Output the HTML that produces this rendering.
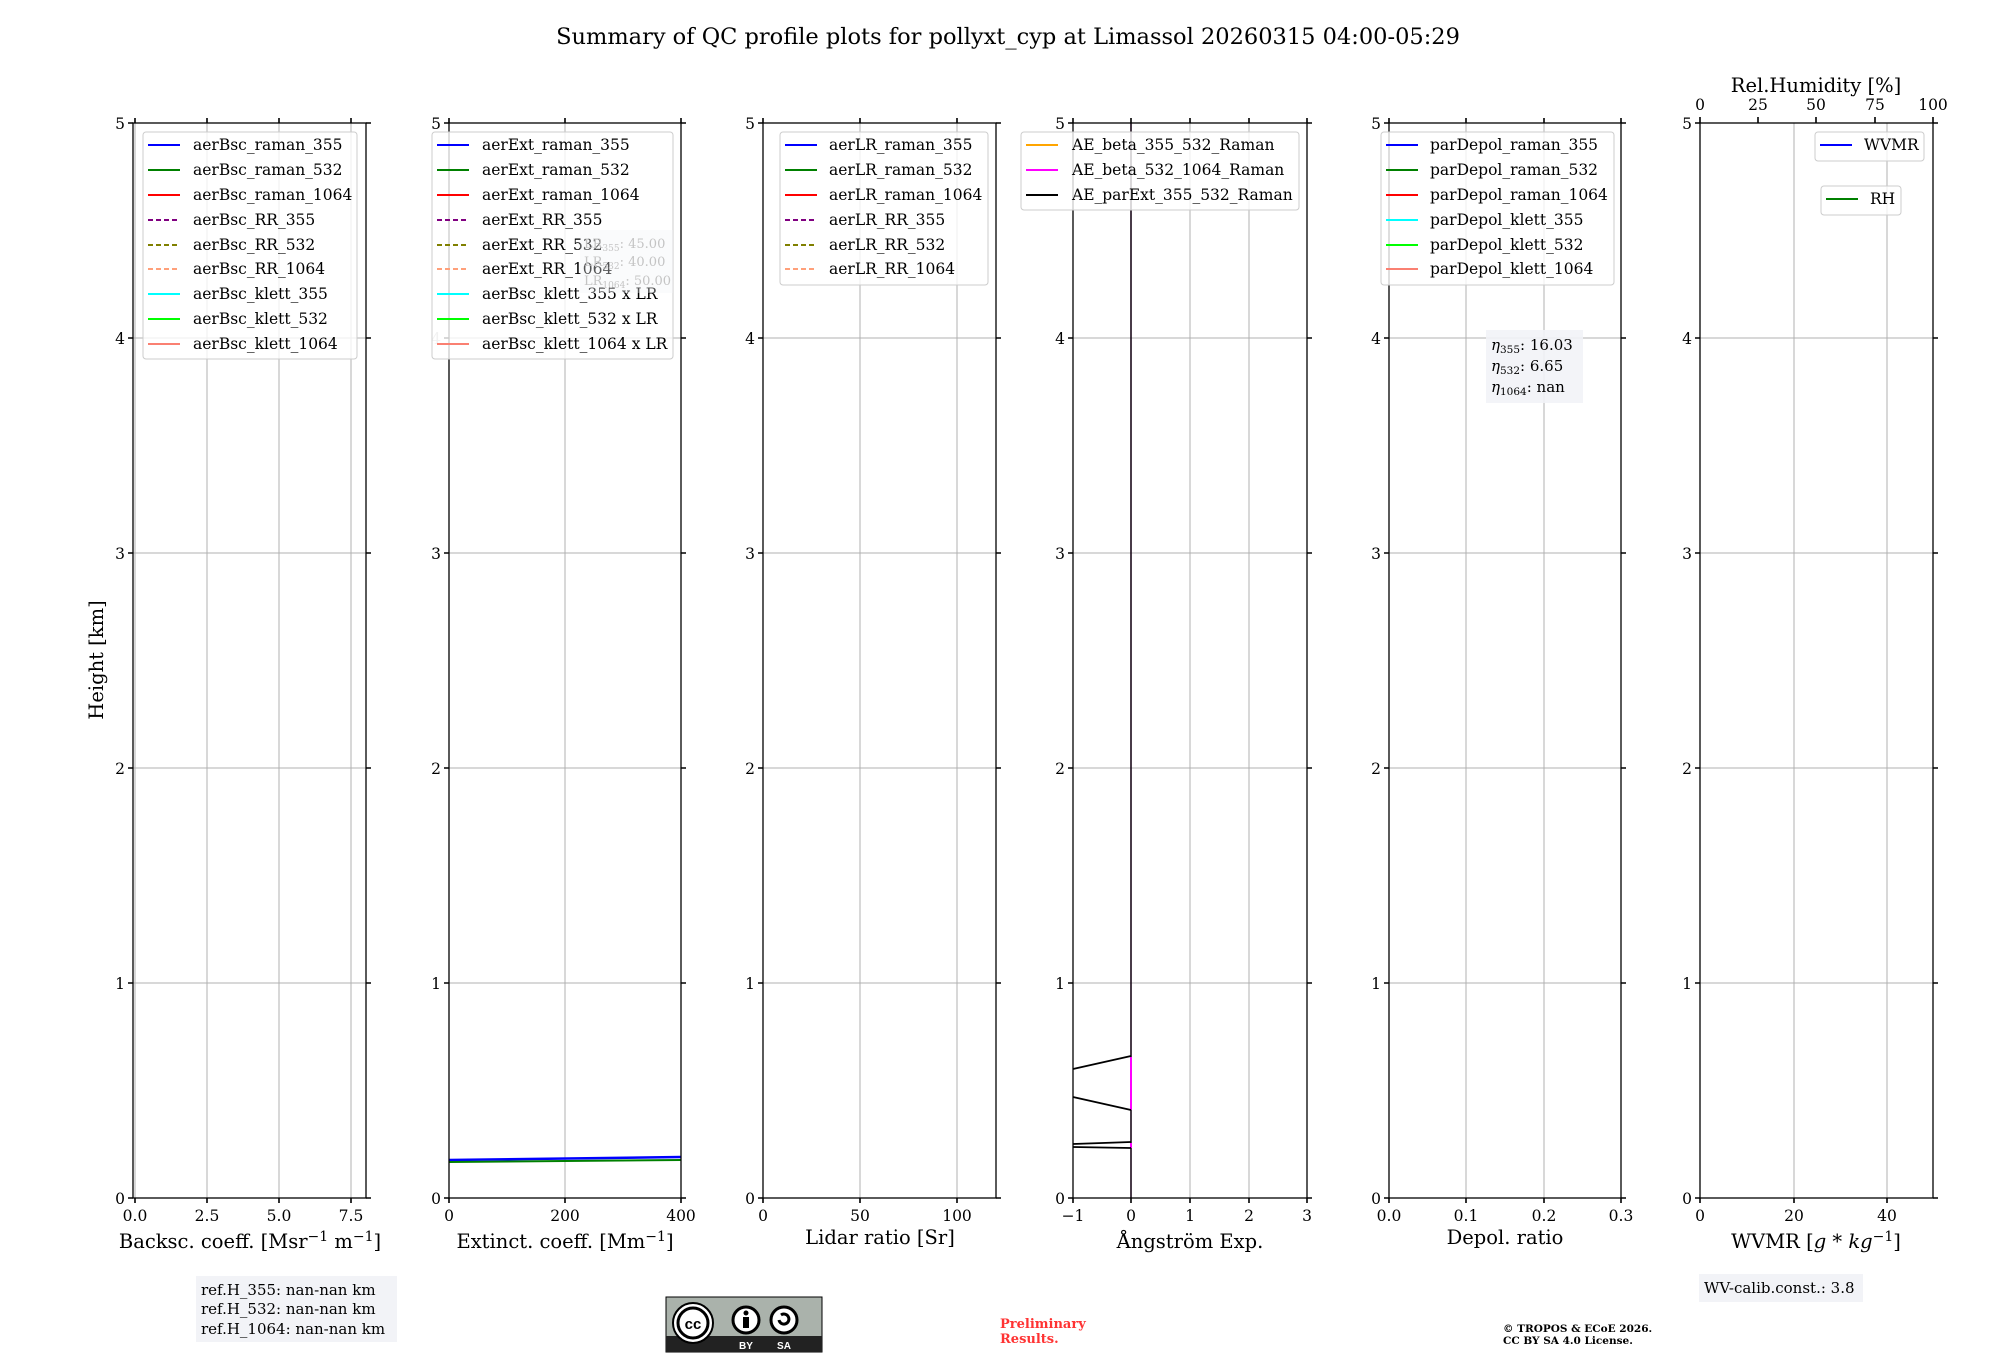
<!DOCTYPE html>
<html><head><meta charset="utf-8"><style>
body{margin:0;background:#fff}
svg{display:block;font-family:"DejaVu Serif","Liberation Serif",serif}
.t{font-size:15.5px}
.tl{font-size:15.5px}
.ax{font-size:19.5px}
.g{stroke:#b0b0b0;stroke-width:1}
.sp{stroke:#000;stroke-width:1.3;fill:none}
.tk{stroke:#000;stroke-width:1.6}
.lg{fill:#fff;fill-opacity:0.8;stroke:#ccc;stroke-width:1}
</style></head><body>
<svg width="2000" height="1360" viewBox="0 0 2000 1360" xmlns="http://www.w3.org/2000/svg">
<text x="1008" y="44" font-size="22.5" text-anchor="middle">Summary of QC profile plots for pollyxt_cyp at Limassol 20260315 04:00-05:29</text>
<text transform="translate(103,660) rotate(-90)" class="ax" text-anchor="middle">Height [km]</text>

<!-- Panel 1 -->
<g>
<line class="g" x1="207" y1="123" x2="207" y2="1198"/><line class="g" x1="279" y1="123" x2="279" y2="1198"/><line class="g" x1="351" y1="123" x2="351" y2="1198"/><line class="g" x1="135" y1="123" x2="135" y2="1198"/>
<line class="g" x1="133" y1="338" x2="366" y2="338"/><line class="g" x1="133" y1="553" x2="366" y2="553"/><line class="g" x1="133" y1="768" x2="366" y2="768"/><line class="g" x1="133" y1="983" x2="366" y2="983"/>
<rect class="sp" x="133" y="123" width="233" height="1075"/>
<path class="tk" d="M135 1198v5M207 1198v5M279 1198v5M351 1198v5M135 123v-5M207 123v-5M279 123v-5M351 123v-5M133 123h-5M133 338h-5M133 553h-5M133 768h-5M133 983h-5M133 1198h-5M366 123h5M366 338h5M366 553h5M366 768h5M366 983h5M366 1198h5"/>
<g class="tl" text-anchor="end"><text x="125" y="129">5</text><text x="125" y="344">4</text><text x="125" y="559">3</text><text x="125" y="774">2</text><text x="125" y="989">1</text><text x="125" y="1204">0</text></g>
<g class="tl" text-anchor="middle"><text x="135" y="1221">0.0</text><text x="207" y="1221">2.5</text><text x="279" y="1221">5.0</text><text x="351" y="1221">7.5</text></g>
<text class="ax" x="250" y="1248" text-anchor="middle">Backsc. coeff. [Msr<tspan dy="-7" font-size="14">−1</tspan><tspan dy="7"> m</tspan><tspan dy="-7" font-size="14">−1</tspan><tspan dy="7">]</tspan></text>
<rect class="lg" x="143" y="132" width="214" height="227" rx="3"/>
<g stroke-width="2" fill="none">
<path d="M148 145h32" stroke="#0000ff"/><path d="M148 170h32" stroke="#008000"/><path d="M148 195h32" stroke="#ff0000"/>
<path d="M148 220h32" stroke="#800080" stroke-dasharray="5,3"/><path d="M148 245h32" stroke="#808000" stroke-dasharray="5,3"/><path d="M148 269h32" stroke="#ffa07a" stroke-dasharray="5,3"/>
<path d="M148 294h32" stroke="#00ffff"/><path d="M148 319h32" stroke="#00ff00"/><path d="M148 344h32" stroke="#fa8072"/></g>
<g class="t"><text x="193" y="150">aerBsc_raman_355</text><text x="193" y="175">aerBsc_raman_532</text><text x="193" y="200">aerBsc_raman_1064</text><text x="193" y="225">aerBsc_RR_355</text><text x="193" y="250">aerBsc_RR_532</text><text x="193" y="274">aerBsc_RR_1064</text><text x="193" y="299">aerBsc_klett_355</text><text x="193" y="324">aerBsc_klett_532</text><text x="193" y="349">aerBsc_klett_1064</text></g>
</g>

<!-- Panel 2 -->
<g>
<line class="g" x1="565" y1="123" x2="565" y2="1198"/>
<line class="g" x1="449" y1="338" x2="681" y2="338"/><line class="g" x1="449" y1="553" x2="681" y2="553"/><line class="g" x1="449" y1="768" x2="681" y2="768"/><line class="g" x1="449" y1="983" x2="681" y2="983"/>
<path d="M449 1160L681 1157" stroke="#0000ff" stroke-width="2.5"/>
<path d="M449 1162L681 1160" stroke="#008000" stroke-width="2"/>
<rect class="sp" x="449" y="123" width="232" height="1075"/>
<path class="tk" d="M449 1198v5M565 1198v5M681 1198v5M449 123v-5M565 123v-5M681 123v-5M449 123h-5M449 338h-5M449 553h-5M449 768h-5M449 983h-5M449 1198h-5M681 123h5M681 338h5M681 553h5M681 768h5M681 983h5M681 1198h5"/>
<g class="tl" text-anchor="end"><text x="441" y="129">5</text><text x="441" y="344" fill="#bbb">4</text><text x="441" y="559">3</text><text x="441" y="774">2</text><text x="441" y="989">1</text><text x="441" y="1204">0</text></g>
<g class="tl" text-anchor="middle"><text x="449" y="1221">0</text><text x="565" y="1221">200</text><text x="681" y="1221">400</text></g>
<text class="ax" x="565" y="1248" text-anchor="middle">Extinct. coeff. [Mm<tspan dy="-7" font-size="14">−1</tspan><tspan dy="7">]</tspan></text>
<rect class="lg" x="432" y="132" width="241" height="227" rx="3"/>
<g stroke-width="2" fill="none">
<path d="M437 145h32" stroke="#0000ff"/><path d="M437 170h32" stroke="#008000"/><path d="M437 195h32" stroke="#ff0000"/>
<path d="M437 220h32" stroke="#800080" stroke-dasharray="5,3"/><path d="M437 245h32" stroke="#808000" stroke-dasharray="5,3"/><path d="M437 269h32" stroke="#ffa07a" stroke-dasharray="5,3"/>
<path d="M437 294h32" stroke="#00ffff"/><path d="M437 319h32" stroke="#00ff00"/><path d="M437 344h32" stroke="#fa8072"/></g>
<g class="t"><text x="482" y="150">aerExt_raman_355</text><text x="482" y="175">aerExt_raman_532</text><text x="482" y="200">aerExt_raman_1064</text><text x="482" y="225">aerExt_RR_355</text><text x="482" y="250">aerExt_RR_532</text><text x="482" y="274">aerExt_RR_1064</text><text x="482" y="299">aerBsc_klett_355 x LR</text><text x="482" y="324">aerBsc_klett_532 x LR</text><text x="482" y="349">aerBsc_klett_1064 x LR</text></g>
<rect x="580" y="230" width="93" height="63" fill="#f2f3f7" fill-opacity="0.35"/>
<g font-size="13" fill="#c4c4c4"><text x="584" y="248">LR<tspan font-size="9" dy="3">355</tspan><tspan dy="-3">: 45.00</tspan></text><text x="584" y="266">LR<tspan font-size="9" dy="3">532</tspan><tspan dy="-3">: 40.00</tspan></text><text x="584" y="285">LR<tspan font-size="9" dy="3">1064</tspan><tspan dy="-3">: 50.00</tspan></text></g>
</g>

<!-- Panel 3 -->
<g>
<line class="g" x1="860" y1="123" x2="860" y2="1198"/><line class="g" x1="957" y1="123" x2="957" y2="1198"/>
<line class="g" x1="763" y1="338" x2="996" y2="338"/><line class="g" x1="763" y1="553" x2="996" y2="553"/><line class="g" x1="763" y1="768" x2="996" y2="768"/><line class="g" x1="763" y1="983" x2="996" y2="983"/>
<rect class="sp" x="763" y="123" width="233" height="1075"/>
<path class="tk" d="M763 1198v5M860 1198v5M957 1198v5M763 123v-5M860 123v-5M957 123v-5M763 123h-5M763 338h-5M763 553h-5M763 768h-5M763 983h-5M763 1198h-5M996 123h5M996 338h5M996 553h5M996 768h5M996 983h5M996 1198h5"/>
<g class="tl" text-anchor="end"><text x="755" y="129">5</text><text x="755" y="344">4</text><text x="755" y="559">3</text><text x="755" y="774">2</text><text x="755" y="989">1</text><text x="755" y="1204">0</text></g>
<g class="tl" text-anchor="middle"><text x="763" y="1221">0</text><text x="860" y="1221">50</text><text x="957" y="1221">100</text></g>
<text class="ax" x="880" y="1244" text-anchor="middle">Lidar ratio [Sr]</text>
<rect class="lg" x="780" y="132" width="208" height="153" rx="3"/>
<g stroke-width="2" fill="none">
<path d="M785 145h32" stroke="#0000ff"/><path d="M785 170h32" stroke="#008000"/><path d="M785 195h32" stroke="#ff0000"/>
<path d="M785 220h32" stroke="#800080" stroke-dasharray="5,3"/><path d="M785 245h32" stroke="#808000" stroke-dasharray="5,3"/><path d="M785 269h32" stroke="#ffa07a" stroke-dasharray="5,3"/></g>
<g class="t"><text x="829" y="150">aerLR_raman_355</text><text x="829" y="175">aerLR_raman_532</text><text x="829" y="200">aerLR_raman_1064</text><text x="829" y="225">aerLR_RR_355</text><text x="829" y="250">aerLR_RR_532</text><text x="829" y="274">aerLR_RR_1064</text></g>
</g>

<!-- Panel 4 -->
<g>
<line class="g" x1="1190" y1="123" x2="1190" y2="1198"/><line class="g" x1="1249" y1="123" x2="1249" y2="1198"/>
<line class="g" x1="1073" y1="338" x2="1307" y2="338"/><line class="g" x1="1073" y1="553" x2="1307" y2="553"/><line class="g" x1="1073" y1="768" x2="1307" y2="768"/><line class="g" x1="1073" y1="983" x2="1307" y2="983"/>
<line x1="1131" y1="123" x2="1131" y2="1198" stroke="#1a0a1a" stroke-width="1.6"/>
<path d="M1131 1057V1110M1131 1143V1148" stroke="#ff00ff" stroke-width="2"/>
<path d="M1073 1069L1131 1056M1073 1097L1131 1110M1073 1144L1131 1142M1073 1147L1131 1148" stroke="#000" stroke-width="1.8" fill="none"/>
<rect class="sp" x="1073" y="123" width="234" height="1075"/>
<path class="tk" d="M1073 1198v5M1131 1198v5M1190 1198v5M1249 1198v5M1307 1198v5M1073 123v-5M1131 123v-5M1190 123v-5M1249 123v-5M1307 123v-5M1073 123h-5M1073 338h-5M1073 553h-5M1073 768h-5M1073 983h-5M1073 1198h-5M1307 123h5M1307 338h5M1307 553h5M1307 768h5M1307 983h5M1307 1198h5"/>
<g class="tl" text-anchor="end"><text x="1065" y="129">5</text><text x="1065" y="344">4</text><text x="1065" y="559">3</text><text x="1065" y="774">2</text><text x="1065" y="989">1</text><text x="1065" y="1204">0</text></g>
<g class="tl" text-anchor="middle"><text x="1073" y="1221">−1</text><text x="1131" y="1221">0</text><text x="1190" y="1221">1</text><text x="1249" y="1221">2</text><text x="1307" y="1221">3</text></g>
<text class="ax" x="1190" y="1248" text-anchor="middle">Ångström Exp.</text>
<rect class="lg" x="1021" y="132" width="278" height="78" rx="3"/>
<g stroke-width="2" fill="none"><path d="M1026 145h32" stroke="#ffa500"/><path d="M1026 170h32" stroke="#ff00ff"/><path d="M1026 195h32" stroke="#000"/></g>
<g class="t"><text x="1072" y="150">AE_beta_355_532_Raman</text><text x="1072" y="175">AE_beta_532_1064_Raman</text><text x="1072" y="200">AE_parExt_355_532_Raman</text></g>
</g>

<!-- Panel 5 -->
<g>
<line class="g" x1="1466" y1="123" x2="1466" y2="1198"/><line class="g" x1="1544" y1="123" x2="1544" y2="1198"/>
<line class="g" x1="1389" y1="338" x2="1621" y2="338"/><line class="g" x1="1389" y1="553" x2="1621" y2="553"/><line class="g" x1="1389" y1="768" x2="1621" y2="768"/><line class="g" x1="1389" y1="983" x2="1621" y2="983"/>
<rect class="sp" x="1389" y="123" width="232" height="1075"/>
<path class="tk" d="M1389 1198v5M1466 1198v5M1544 1198v5M1621 1198v5M1389 123v-5M1466 123v-5M1544 123v-5M1621 123v-5M1389 123h-5M1389 338h-5M1389 553h-5M1389 768h-5M1389 983h-5M1389 1198h-5M1621 123h5M1621 338h5M1621 553h5M1621 768h5M1621 983h5M1621 1198h5"/>
<g class="tl" text-anchor="end"><text x="1381" y="129">5</text><text x="1381" y="344">4</text><text x="1381" y="559">3</text><text x="1381" y="774">2</text><text x="1381" y="989">1</text><text x="1381" y="1204">0</text></g>
<g class="tl" text-anchor="middle"><text x="1389" y="1221">0.0</text><text x="1466" y="1221">0.1</text><text x="1544" y="1221">0.2</text><text x="1621" y="1221">0.3</text></g>
<text class="ax" x="1505" y="1244" text-anchor="middle">Depol. ratio</text>
<rect class="lg" x="1381" y="132" width="233" height="153" rx="3"/>
<g stroke-width="2" fill="none">
<path d="M1386 145h32" stroke="#0000ff"/><path d="M1386 170h32" stroke="#008000"/><path d="M1386 195h32" stroke="#ff0000"/>
<path d="M1386 220h32" stroke="#00ffff"/><path d="M1386 245h32" stroke="#00ff00"/><path d="M1386 269h32" stroke="#fa8072"/></g>
<g class="t"><text x="1430" y="150">parDepol_raman_355</text><text x="1430" y="175">parDepol_raman_532</text><text x="1430" y="200">parDepol_raman_1064</text><text x="1430" y="225">parDepol_klett_355</text><text x="1430" y="250">parDepol_klett_532</text><text x="1430" y="274">parDepol_klett_1064</text></g>
<rect x="1486" y="330" width="97" height="73" fill="#f2f3f7" fill-opacity="0.9"/>
<g font-size="15"><text x="1491" y="350"><tspan font-style="italic">η</tspan><tspan font-size="10.5" dy="3">355</tspan><tspan dy="-3">: 16.03</tspan></text><text x="1491" y="371"><tspan font-style="italic">η</tspan><tspan font-size="10.5" dy="3">532</tspan><tspan dy="-3">: 6.65</tspan></text><text x="1491" y="392"><tspan font-style="italic">η</tspan><tspan font-size="10.5" dy="3">1064</tspan><tspan dy="-3">: nan</tspan></text></g>
</g>

<!-- Panel 6 -->
<g>
<line class="g" x1="1794" y1="123" x2="1794" y2="1198"/><line class="g" x1="1887" y1="123" x2="1887" y2="1198"/>
<line class="g" x1="1700" y1="338" x2="1933" y2="338"/><line class="g" x1="1700" y1="553" x2="1933" y2="553"/><line class="g" x1="1700" y1="768" x2="1933" y2="768"/><line class="g" x1="1700" y1="983" x2="1933" y2="983"/>
<rect class="sp" x="1700" y="123" width="233" height="1075"/>
<path class="tk" d="M1700 1198v5M1794 1198v5M1887 1198v5M1700 123v-6M1758 123v-6M1816 123v-6M1875 123v-6M1933 123v-6M1700 123h-5M1700 338h-5M1700 553h-5M1700 768h-5M1700 983h-5M1700 1198h-5M1933 123h5M1933 338h5M1933 553h5M1933 768h5M1933 983h5M1933 1198h5"/>
<g class="tl" text-anchor="end"><text x="1692" y="129">5</text><text x="1692" y="344">4</text><text x="1692" y="559">3</text><text x="1692" y="774">2</text><text x="1692" y="989">1</text><text x="1692" y="1204">0</text></g>
<g class="tl" text-anchor="middle"><text x="1700" y="1221">0</text><text x="1794" y="1221">20</text><text x="1887" y="1221">40</text>
<text x="1700" y="110">0</text><text x="1758" y="110">25</text><text x="1816" y="110">50</text><text x="1875" y="110">75</text><text x="1933" y="110">100</text></g>
<text class="ax" x="1816" y="92" text-anchor="middle">Rel.Humidity [%]</text>
<text class="ax" x="1816" y="1248" text-anchor="middle">WVMR [<tspan font-style="italic">g</tspan> * <tspan font-style="italic">kg</tspan><tspan dy="-7" font-size="14">−1</tspan><tspan dy="7">]</tspan></text>
<rect class="lg" x="1815" y="132" width="109" height="29" rx="3"/>
<path d="M1820 145h32" stroke="#0000ff" stroke-width="2"/><text class="t" x="1864" y="150">WVMR</text>
<rect class="lg" x="1821" y="186" width="80" height="29" rx="3"/>
<path d="M1826 199h32" stroke="#008000" stroke-width="2"/><text class="t" x="1870" y="204">RH</text>
</g>

<!-- Bottom annotations -->
<rect x="196" y="1276" width="201" height="66" fill="#f2f3f7"/>
<g font-size="15"><text x="201" y="1295">ref.H_355: nan-nan km</text><text x="201" y="1314">ref.H_532: nan-nan km</text><text x="201" y="1334">ref.H_1064: nan-nan km</text></g>
<rect x="1699" y="1274" width="164" height="28" fill="#f2f3f7"/>
<text x="1704" y="1293" font-size="15">WV-calib.const.: 3.8</text>
<text x="1000" y="1328" font-size="13" font-weight="bold" fill="#ff3333">Preliminary</text>
<text x="1000" y="1343" font-size="13" font-weight="bold" fill="#ff3333">Results.</text>
<text x="1503" y="1332" font-size="10.5" font-weight="bold">© TROPOS &amp; ECoE 2026.</text>
<text x="1503" y="1344" font-size="10.5" font-weight="bold">CC BY SA 4.0 License.</text>
<!-- CC logo -->
<g>
<rect x="666" y="1297" width="156" height="55" fill="#aab2ab" stroke="#000" stroke-width="1"/>
<rect x="666" y="1336" width="156" height="16" fill="#222"/>
<circle cx="693" cy="1323" r="20" fill="#fff" stroke="#000" stroke-width="2"/>
<circle cx="693" cy="1323" r="15" fill="#fff" stroke="#000" stroke-width="3"/>
<text x="693" y="1329" font-family="Liberation Sans,sans-serif" font-size="15" font-weight="bold" text-anchor="middle">cc</text>
<circle cx="746" cy="1320" r="13" fill="#fff" stroke="#000" stroke-width="3"/>
<circle cx="746" cy="1313" r="2.5" fill="#000"/><rect x="743" y="1317" width="6" height="11" fill="#000"/>
<circle cx="784" cy="1320" r="13" fill="#fff" stroke="#000" stroke-width="3"/>
<path d="M779 1320a5 5 0 1 0 2 -5" stroke="#000" stroke-width="3" fill="none"/>
<text x="746" y="1349" fill="#fff" font-family="Liberation Sans,sans-serif" font-size="10" font-weight="bold" text-anchor="middle">BY</text>
<text x="784" y="1349" fill="#fff" font-family="Liberation Sans,sans-serif" font-size="10" font-weight="bold" text-anchor="middle">SA</text>
</g>
</svg>
</body></html>
